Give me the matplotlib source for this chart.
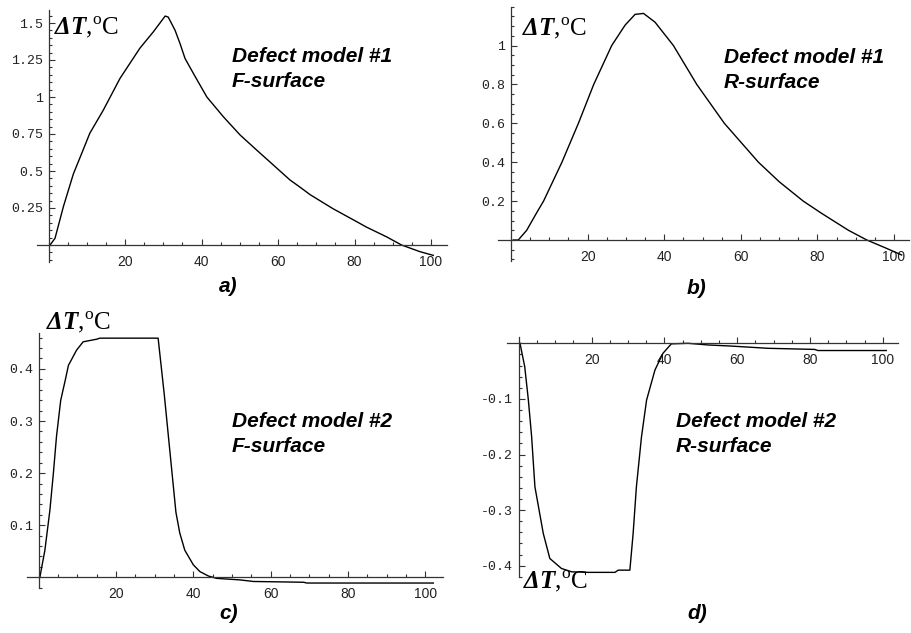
import matplotlib
matplotlib.use('Agg')
import matplotlib.pyplot as plt
from matplotlib.ticker import MultipleLocator

plt.rcParams['mathtext.fontset'] = 'custom'
plt.rcParams['mathtext.rm'] = 'Liberation Serif'
plt.rcParams['mathtext.bf'] = 'Liberation Serif:italic:bold'

# ---------------- data ----------------
a_x = [0.4, 1.7, 3.9, 6.5, 8.7, 10.8, 14.3, 18.7, 21.3, 23.9, 27.4, 30.5, 31.3, 33.1, 34.4,
       35.7, 38.3, 41.4, 45.7, 50.1, 54.4, 58.8, 63.1, 65.8, 68.4, 74.4, 79.7, 83.2, 88.4,
       92.3, 97.1, 100.6]
a_y = [0.0, 0.045, 0.26, 0.48, 0.62, 0.755, 0.91, 1.126, 1.228, 1.33, 1.44, 1.547, 1.54,
       1.45, 1.36, 1.26, 1.14, 1.00, 0.867, 0.743, 0.642, 0.54, 0.44, 0.39, 0.34, 0.245,
       0.17, 0.12, 0.055, 0.0, -0.045, -0.07]

b_x = [0.6, 1.9, 4.1, 6.7, 8.5, 13.3, 17.6, 21.6, 26.3, 29.8, 32.4, 34.6, 37.6, 42.4, 48.5,
       55.7, 64.6, 70.0, 76.3, 81.1, 88.1, 92.9, 97.7, 102.0]
b_y = [0.0, 0.0, 0.05, 0.14, 0.20, 0.40, 0.60, 0.80, 1.00, 1.105, 1.16, 1.165, 1.12, 1.00,
       0.80, 0.60, 0.40, 0.30, 0.20, 0.137, 0.05, 0.0, -0.04, -0.077]

c_x = [0.3, 1.6, 2.9, 3.8, 4.6, 5.7, 6.8, 7.7, 9.8, 11.5, 15.0, 15.8, 30.9, 32.5, 35.5,
       36.5, 37.8, 40.0, 41.7, 43.9, 46.0, 52.1, 55.5, 68.5, 69.4, 102.1]
c_y = [0.0, 0.052, 0.129, 0.20, 0.27, 0.34, 0.376, 0.407, 0.436, 0.452, 0.457, 0.459, 0.459,
       0.35, 0.125, 0.085, 0.052, 0.024, 0.011, 0.0025, -0.002, -0.005, -0.008, -0.0095,
       -0.011, -0.011]

d_x = [0.3, 1.6, 2.6, 3.5, 4.4, 6.7, 8.5, 11.7, 14.5, 19.1, 26.4, 27.3, 30.5, 31.4, 32.3,
       33.7, 35.1, 37.4, 39.6, 41.9, 46.5, 52.0, 58.4, 68.5, 81.3, 82.2, 101.0]
d_y = [0.0, -0.042, -0.102, -0.168, -0.258, -0.342, -0.387, -0.405, -0.411, -0.412, -0.412,
       -0.408, -0.408, -0.342, -0.258, -0.168, -0.102, -0.048, -0.018, -0.001, 0.0, -0.003,
       -0.005, -0.009, -0.011, -0.013, -0.013]

x_ticks = [20, 40, 60, 80, 100]
x_labels = ['20', '40', '60', '80', '100']
a_yticks = [0.25, 0.5, 0.75, 1.0, 1.25, 1.5]
a_ylabels = ['0.25', '0.5', '0.75', '1', '1.25', '1.5']
b_yticks = [0.2, 0.4, 0.6, 0.8, 1.0]
b_ylabels = ['0.2', '0.4', '0.6', '0.8', '1']
c_yticks = [0.1, 0.2, 0.3, 0.4]
c_ylabels = ['0.1', '0.2', '0.3', '0.4']
d_yticks = [-0.1, -0.2, -0.3, -0.4]
d_ylabels = ['-0.1', '-0.2', '-0.3', '-0.4']

titles = [('Defect model #1', 'F-surface'), ('Defect model #1', 'R-surface'),
          ('Defect model #2', 'F-surface'), ('Defect model #2', 'R-surface')]
sublabels = ['a)', 'b)', 'c)', 'd)']
ylabel_text = r'$\mathbf{\Delta T}$,$^{\mathrm{o}}$C'

# ---------------- layout ----------------
W, H = 911, 633
fig = plt.figure(figsize=(W / 100, H / 100), dpi=100)
fig.patch.set_facecolor('white')


def make_axes(x0, xs, y0, ys, xlim, ylim):
    left = x0 + xlim[0] * xs
    right = x0 + xlim[1] * xs
    top = y0 - ylim[1] * ys
    bottom = y0 - ylim[0] * ys
    ax = fig.add_axes([left / W, 1 - bottom / H, (right - left) / W, (bottom - top) / H])
    ax.set_xlim(*xlim)
    ax.set_ylim(*ylim)
    return ax


def style(ax, yt, ytl, yminor):
    for s in ['top', 'right']:
        ax.spines[s].set_visible(False)
    for s in ['left', 'bottom']:
        ax.spines[s].set_position(('data', 0))
        ax.spines[s].set_color('#333333')
        ax.spines[s].set_linewidth(0.9)
    ax.set_xticks(x_ticks, x_labels, fontfamily='Liberation Sans', fontsize=10, color='#222222')
    ax.set_yticks(yt, ytl, fontfamily='Liberation Mono', fontsize=9.5, color='#222222')
    ax.xaxis.set_minor_locator(MultipleLocator(5))
    ax.yaxis.set_minor_locator(MultipleLocator(yminor))
    ax.tick_params(which='both', direction='in', color='#333333', width=0.8)
    ax.tick_params(which='major', length=4)
    ax.tick_params(which='minor', length=2.5)
    ax.tick_params(axis='x', pad=7)
    ax.tick_params(axis='y', pad=4)
    ax.patch.set_visible(False)


def ftext(x, y, s, **kw):
    fig.text(x / W, 1 - y / H, s, **kw)


axa = make_axes(48.5, 3.825, 245, 148, (-3, 104.2), (-0.115, 1.59))
axb = make_axes(511, 3.83, 240, 194.5, (-3.4, 104), (-0.11, 1.2))
axc = make_axes(38.7, 3.865, 577.3, 521, (-2.9, 104.5), (-0.021, 0.468))
axd = make_axes(518.9, 3.638, 343.3, 556, (-3.4, 104.3), (-0.42, 0.012))

style(axa, a_yticks, a_ylabels, 0.05)
style(axb, b_yticks, b_ylabels, 0.05)
style(axc, c_yticks, c_ylabels, 0.02)
style(axd, d_yticks, d_ylabels, 0.02)

for ax, xs_, ys_ in [(axa, a_x, a_y), (axb, b_x, b_y), (axc, c_x, c_y), (axd, d_x, d_y)]:
    ax.plot(xs_, ys_, color='black', lw=1.0)

title_pos = [(232, 62, 87), (724, 63, 88), (232, 427, 452), (676, 427, 452)]
for (l1, l2), (x, y1, y2) in zip(titles, title_pos):
    ftext(x, y1, l1, fontfamily='Liberation Sans', fontweight='bold', fontstyle='italic',
          fontsize=15, va='baseline', ha='left')
    ftext(x, y2, l2, fontfamily='Liberation Sans', fontweight='bold', fontstyle='italic',
          fontsize=15, va='baseline', ha='left')

sub_pos = [(228, 292), (697, 294), (229, 619), (697, 619)]
for s, (x, y) in zip(sublabels, sub_pos):
    ftext(x, y, s, fontfamily='Liberation Sans', fontweight='bold', fontstyle='italic',
          fontsize=15, va='baseline', ha='center')

ylab_pos = [(54, 34), (522, 35), (46, 329), (523, 588)]
for (x, y) in ylab_pos:
    ftext(x, y, ylabel_text, fontfamily='Liberation Serif', fontsize=18,
          va='baseline', ha='left')

fig.savefig('out.png', dpi=100)
